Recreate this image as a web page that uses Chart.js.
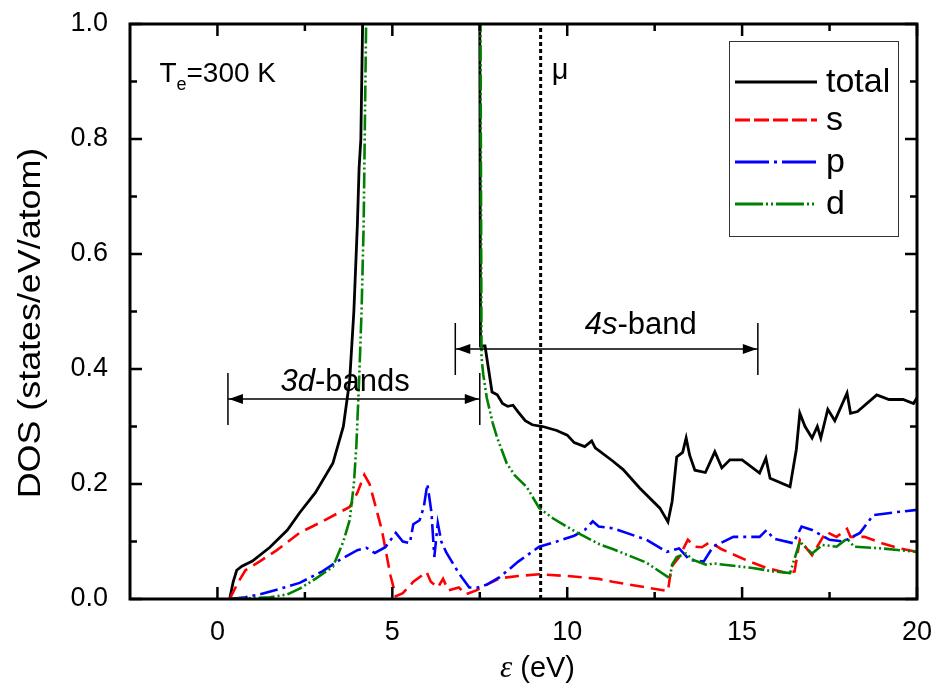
<!DOCTYPE html>
<html>
<head>
<meta charset="utf-8">
<script src="https://cdn.jsdelivr.net/npm/chart.js@4"></script>
<style>
  html, body { margin: 0; padding: 0; background: #fff; }
  #wrap { width: 933px; height: 691px; }
</style>
</head>
<body>
<div id="wrap"><canvas id="dos"></canvas></div>
<script>
"use strict"

// x axis ticks (eV) and y axis ticks (states/eV/atom)
const xTicks = [0, 5, 10, 15, 20];
const xMinorTicks = [2.5, 7.5, 12.5, 17.5];
const yTicks = [0, 0.2, 0.4, 0.6, 0.8, 1.0];
const yMinorTicks = [0.1, 0.3, 0.5, 0.7, 0.9];

// total DOS
const totalE = [0.35, 0.45, 0.55, 0.7, 1.0, 1.5, 2.0, 2.35, 2.8, 3.3, 3.6, 3.78, 3.9, 4.0, 4.05, 4.1, 4.15, 4.2,
  7.45, 7.5, 7.52, 7.65, 7.75, 7.85, 8.0, 8.15, 8.3, 8.45, 8.6, 8.8, 9.0, 9.3, 9.7, 10.0, 10.2, 10.5, 10.7, 10.8,
  11.3, 11.6, 12.07, 12.65, 12.88, 13.0, 13.13, 13.3, 13.4, 13.5, 13.65, 13.95, 14.22, 14.42, 14.65, 15.0, 15.5,
  15.68, 15.8, 16.37, 16.55, 16.65, 16.8, 17.0, 17.15, 17.25, 17.45, 17.65, 18.0, 18.1, 18.3, 18.85, 19.2, 19.6,
  19.9, 20.0];
const totalDos = [0, 0.03, 0.05, 0.057, 0.066, 0.09, 0.12, 0.15, 0.185, 0.236, 0.3, 0.38, 0.5, 0.65, 0.75, 0.8, 1.0, 1.6,
  1.6, 1.0, 0.44, 0.44, 0.4, 0.36, 0.355, 0.34, 0.335, 0.337, 0.325, 0.31, 0.303, 0.3, 0.293, 0.285, 0.272, 0.265, 0.275, 0.263,
  0.24, 0.225, 0.193, 0.158, 0.134, 0.17, 0.247, 0.255, 0.28, 0.25, 0.224, 0.22, 0.256, 0.228, 0.242, 0.242, 0.219,
  0.245, 0.21, 0.195, 0.26, 0.323, 0.3, 0.28, 0.3, 0.28, 0.33, 0.31, 0.358, 0.323, 0.326, 0.355, 0.347, 0.347,
  0.34, 0.35];

// s-projected DOS
const sE = [0.35, 0.6, 0.8, 1.2, 1.7, 2.35, 3.0, 3.78, 4.0, 4.2, 4.35, 4.7, 4.95, 5.1, 5.3, 5.6, 5.98, 6.1, 6.3, 6.45,
  6.6, 6.9, 7.1, 7.4, 7.7, 8.07, 8.6, 9.2, 10.0, 10.9, 11.3, 12.27, 12.88, 12.98, 13.2, 13.45, 13.65, 13.85, 14.08,
  14.4, 15.1, 15.7, 16.28, 16.5, 16.65, 17.0, 17.4, 17.7, 18.0, 18.1, 18.5, 19.0, 19.5, 20.0];
const sDos = [0, 0.03, 0.05, 0.065, 0.085, 0.115, 0.135, 0.16, 0.185, 0.216, 0.2, 0.12, 0.04, 0.005, 0.01, 0.03, 0.047, 0.03, 0.02, 0.035,
  0.015, 0.02, 0.008, 0.015, 0.025, 0.036, 0.04, 0.043, 0.04, 0.035, 0.03, 0.02, 0.014, 0.056, 0.073, 0.103, 0.091, 0.09, 0.099,
  0.087, 0.068, 0.054, 0.045, 0.048, 0.103, 0.076, 0.117, 0.108, 0.122, 0.108, 0.108, 0.097, 0.088, 0.082];

// p-projected DOS
const pE = [0.35, 0.8, 1.2, 1.8, 2.35, 3.0, 3.5, 4.0, 4.26, 4.5, 4.8, 5.1, 5.3, 5.5, 5.6, 5.78, 5.9, 6.0, 6.05, 6.12,
  6.2, 6.3, 6.4, 6.55, 6.9, 7.2, 7.45, 7.7, 8.07, 8.6, 9.2, 9.7, 10.2, 10.5, 10.73, 10.9, 11.3, 12.27, 12.85, 13.2,
  13.5, 13.9, 14.17, 14.75, 15.5, 15.7, 15.9, 16.46, 16.7, 17.0, 17.5, 17.9, 18.37, 18.75, 19.4, 20.0];
const pDos = [0, 0.003, 0.008, 0.018, 0.028, 0.048, 0.068, 0.085, 0.089, 0.08, 0.09, 0.115, 0.1, 0.097, 0.13, 0.137, 0.16, 0.2, 0.18, 0.15,
  0.073, 0.132, 0.1, 0.08, 0.045, 0.02, 0.02, 0.025, 0.038, 0.065, 0.091, 0.1, 0.11, 0.12, 0.135, 0.126, 0.123, 0.103, 0.082, 0.088,
  0.068, 0.065, 0.091, 0.108, 0.108, 0.12, 0.105, 0.097, 0.126, 0.12, 0.103, 0.1, 0.115, 0.146, 0.151, 0.155];

// d-projected DOS
const dE = [0.35, 1.5, 2.0, 2.35, 2.8, 3.3, 3.6, 3.78, 3.9, 3.97, 4.05, 4.12, 4.18, 4.22, 4.25, 4.3, 7.45, 7.52, 7.55,
  7.6, 7.7, 7.87, 8.0, 8.27, 8.5, 8.84, 9.2, 9.6, 9.98, 10.3, 10.93, 11.3, 12.27, 12.93, 13.0, 13.13, 13.4, 13.6,
  14.0, 14.17, 14.55, 15.3, 15.9, 16.37, 16.55, 16.65, 17.0, 17.3, 17.7, 18.0, 18.2, 19.0, 20.0];
const dDos = [0, 0.003, 0.008, 0.018, 0.035, 0.056, 0.1, 0.137, 0.2, 0.265, 0.38, 0.5, 0.65, 0.85, 1.0, 1.6, 1.6, 1.0, 0.42,
  0.39, 0.35, 0.306, 0.28, 0.236, 0.215, 0.195, 0.158, 0.14, 0.126, 0.115, 0.095, 0.087, 0.063, 0.036, 0.06, 0.073, 0.079, 0.068,
  0.059, 0.062, 0.059, 0.054, 0.048, 0.045, 0.08, 0.1, 0.079, 0.094, 0.091, 0.105, 0.091, 0.088, 0.082];

// chemical potential and band spans (eV)
const muEnergy = 9.24;
const band3d = [0.3, 7.5];
const band4s = [6.8, 15.45];

const toPoints = (xs, ys) => xs.map((x, i) => ({ x: x, y: ys[i] }));

const FONT = '"Liberation Sans", Arial, sans-serif';

// Ramar, tickar, pilar och texter ovanpå kurvorna
const decorPlugin = {
  id: 'decor',
  afterDatasetsDraw(chart) {
    const ctx = chart.ctx;
    const xs = chart.scales.x, ys = chart.scales.y;
    const a = chart.chartArea;
    ctx.save();

    // ram
    ctx.strokeStyle = '#000';
    ctx.lineWidth = 3;
    ctx.strokeRect(a.left, a.top, a.right - a.left, a.bottom - a.top);

    // tickar inåt
    ctx.lineWidth = 2.5;
    const tickX = (v, len) => {
      const p = xs.getPixelForValue(v);
      ctx.beginPath();
      ctx.moveTo(p, a.bottom); ctx.lineTo(p, a.bottom - len);
      ctx.moveTo(p, a.top); ctx.lineTo(p, a.top + len);
      ctx.stroke();
    };
    const tickY = (v, len) => {
      const p = ys.getPixelForValue(v);
      ctx.beginPath();
      ctx.moveTo(a.left, p); ctx.lineTo(a.left + len, p);
      ctx.moveTo(a.right, p); ctx.lineTo(a.right - len, p);
      ctx.stroke();
    };
    xTicks.forEach(v => tickX(v, 12));
    xMinorTicks.forEach(v => tickX(v, 7));
    yTicks.forEach(v => tickY(v, 12));
    yMinorTicks.forEach(v => tickY(v, 7));

    // pilar för banden
    const span = (range, yv, text1, text2, textY, textX) => {
      const x1 = xs.getPixelForValue(range[0]);
      const x2 = xs.getPixelForValue(range[1]);
      const y = ys.getPixelForValue(yv);
      ctx.strokeStyle = '#000';
      ctx.fillStyle = '#000';
      ctx.lineWidth = 1.5;
      ctx.beginPath();
      ctx.moveTo(x1, y); ctx.lineTo(x2, y);
      ctx.moveTo(x1, y - 26); ctx.lineTo(x1, y + 26);
      ctx.moveTo(x2, y - 26); ctx.lineTo(x2, y + 26);
      ctx.stroke();
      ctx.beginPath();
      ctx.moveTo(x1 + 1, y); ctx.lineTo(x1 + 15, y - 5); ctx.lineTo(x1 + 15, y + 5); ctx.closePath();
      ctx.moveTo(x2 - 1, y); ctx.lineTo(x2 - 15, y - 5); ctx.lineTo(x2 - 15, y + 5); ctx.closePath();
      ctx.fill();
      ctx.font = 'italic 31px ' + FONT;
      const w1 = ctx.measureText(text1).width;
      ctx.font = '31px ' + FONT;
      const w2 = ctx.measureText(text2).width;
      const cx = xs.getPixelForValue(textX);
      const ty = ys.getPixelForValue(textY);
      ctx.textBaseline = 'middle';
      ctx.textAlign = 'left';
      ctx.font = 'italic 31px ' + FONT;
      ctx.fillText(text1, cx - (w1 + w2) / 2, ty);
      ctx.font = '31px ' + FONT;
      ctx.fillText(text2, cx - (w1 + w2) / 2 + w1, ty);
    };
    span(band3d, 0.348, '3d', '-bands', 0.377, 3.65);
    span(band4s, 0.435, '4s', '-band', 0.476, 12.1);

    // T_e text
    ctx.fillStyle = '#000';
    ctx.textBaseline = 'alphabetic';
    ctx.textAlign = 'left';
    let tx = xs.getPixelForValue(-1.66);
    const tyb = ys.getPixelForValue(0.9);
    ctx.font = '28px ' + FONT;
    ctx.fillText('T', tx, tyb);
    tx += ctx.measureText('T').width;
    ctx.font = '18px ' + FONT;
    ctx.fillText('e', tx, tyb + 8);
    tx += ctx.measureText('e').width;
    ctx.font = '28px ' + FONT;
    ctx.fillText('=300 K', tx, tyb);

    // mu
    ctx.font = '29px ' + FONT;
    ctx.fillText('\u03bc', xs.getPixelForValue(9.56), ys.getPixelForValue(0.905));

    // x-axeltitel
    ctx.font = 'italic 31px "Liberation Serif", serif';
    const we = ctx.measureText('\u03b5').width;
    ctx.font = '29px ' + FONT;
    const wr = ctx.measureText(' (eV)').width;
    const xc = (a.left + a.right) / 2 + 14;
    ctx.font = 'italic 31px "Liberation Serif", serif';
    ctx.fillText('\u03b5', xc - (we + wr) / 2, 677);
    ctx.font = '29px ' + FONT;
    ctx.fillText(' (eV)', xc - (we + wr) / 2 + we, 677);

    // y-axeltitel
    ctx.save();
    ctx.translate(31, 323);
    ctx.rotate(-Math.PI / 2);
    ctx.scale(1.12, 1);
    ctx.textAlign = 'center';
    ctx.textBaseline = 'middle';
    ctx.font = '32px ' + FONT;
    ctx.fillText('DOS (states/eV/atom)', 0, 0);
    ctx.restore();

    // förklaring
    const box = { l: 729, t: 41, r: 898, b: 236 };
    ctx.lineWidth = 1;
    ctx.strokeStyle = '#333';
    ctx.strokeRect(box.l + 0.5, box.t + 0.5, box.r - box.l, box.b - box.t);
    const rowY = [82, 120, 162, 204];
    chart.data.datasets.forEach((ds, i) => {
      if (!ds.legend) return;
      const y = rowY[i];
      ctx.strokeStyle = ds.borderColor;
      ctx.lineWidth = 3;
      ctx.setLineDash(ds.legendDash);
      ctx.beginPath();
      ctx.moveTo(735, y); ctx.lineTo(817, y);
      ctx.stroke();
      ctx.setLineDash([]);
      ctx.fillStyle = '#000';
      ctx.font = '34px ' + FONT;
      ctx.textBaseline = 'middle';
      ctx.textAlign = 'left';
      ctx.fillText(ds.label, 826, y + 1);
    });

    ctx.restore();
  }
};

new Chart(document.getElementById('dos'), {
  type: 'line',
  data: {
    datasets: [
      { label: 'total', data: toPoints(totalE, totalDos), borderColor: '#000000', borderWidth: 2.8,
        order: 4, legend: true, legendDash: [] },
      { label: 's', data: toPoints(sE, sDos), borderColor: '#ff0000', borderWidth: 2.6, borderDash: [14, 7],
        order: 3, legend: true, legendDash: [15, 4] },
      { label: 'p', data: toPoints(pE, pDos), borderColor: '#0000ff', borderWidth: 2.6, borderDash: [18, 5, 3, 5],
        order: 2, legend: true, legendDash: [34, 5, 3, 5] },
      { label: 'd', data: toPoints(dE, dDos), borderColor: '#008000', borderWidth: 2.6, borderDash: [16, 3, 2, 3, 2, 3],
        order: 1, legend: true, legendDash: [28, 3, 2, 3, 2, 3] },
      { label: 'mu', data: toPoints([muEnergy, muEnergy], [0, 1]), borderColor: '#000000', borderWidth: 3,
        borderDash: [4, 3], order: 5, legend: false }
    ]
  },
  options: {
    responsive: true,
    maintainAspectRatio: false,
    animation: false,
    devicePixelRatio: 1,
    layout: { padding: { left: 0, right: 16, top: 24, bottom: 0 } },
    elements: { point: { radius: 0 }, line: { tension: 0 } },
    plugins: { legend: { display: false }, tooltip: { enabled: false } },
    scales: {
      x: {
        type: 'linear', min: -2.5, max: 20,
        grid: { display: false }, border: { display: false },
        afterBuildTicks: s => { s.ticks = xTicks.map(v => ({ value: v })); },
        afterFit: s => { s.height = 92; s.paddingLeft = 0; s.paddingRight = 0; },
        ticks: { color: '#000', font: { family: FONT, size: 27 }, padding: 9, maxRotation: 0 }
      },
      y: {
        min: 0, max: 1,
        grid: { display: false }, border: { display: false },
        afterBuildTicks: s => { s.ticks = yTicks.map(v => ({ value: v })); },
        afterFit: s => { s.width = 130; s.paddingTop = 0; s.paddingBottom = 0; },
        ticks: { color: '#000', font: { family: FONT, size: 27 }, padding: 14,
          callback: v => v.toFixed(1) }
      }
    }
  },
  plugins: [decorPlugin]
});
</script>
</body>
</html>
